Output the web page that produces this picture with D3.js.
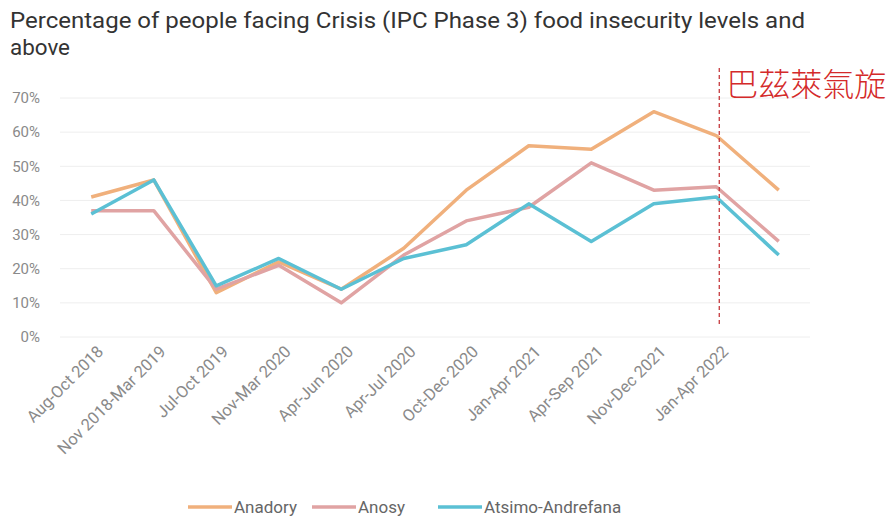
<!DOCTYPE html>
<html>
<head>
<meta charset="utf-8">
<script src="https://cdn.jsdelivr.net/npm/d3@7"></script>
<style>
  body { margin: 0; background: #fff; }
  svg { font-family: Roboto, "Noto Sans", sans-serif; }
</style>
</head>
<body>
<div id="chart"></div>
<script>
// chart data
const periods = ["Aug-Oct 2018", "Nov 2018-Mar 2019", "Jul-Oct 2019", "Nov-Mar 2020",
  "Apr-Jun 2020", "Apr-Jul 2020", "Oct-Dec 2020", "Jan-Apr 2021", "Apr-Sep 2021",
  "Nov-Dec 2021", "Jan-Apr 2022", ""];
const anadory = [41, 46, 13, 22, 14, 26, 43, 56, 55, 66, 59, 43];
const anosy = [37, 37, 14, 21, 10, 24, 34, 38, 51, 43, 44, 28];
const atsimo = [36, 46, 15, 23, 14, 23, 27, 39, 28, 39, 41, 24];
const yTicks = [0, 10, 20, 30, 40, 50, 60, 70];
const seriesNames = ["Anadory", "Anosy", "Atsimo-Andrefana"];
const seriesColors = ["#F0B07C", "#E0A3A3", "#5BC0D4"];

const width = 893;
const height = 520;
const margin = {left: 60, right: 83, top: 98, bottom: 183};

const svg = d3.select("#chart")
  .append("svg")
  .attr("width", width)
  .attr("height", height);

// title
svg.append("text")
  .attr("x", 10).attr("y", 28)
  .attr("font-size", 22).attr("fill", "#333")
  .attr("textLength", 795).attr("lengthAdjust", "spacingAndGlyphs")
  .text("Percentage of people facing Crisis (IPC Phase 3) food insecurity levels and");
svg.append("text")
  .attr("x", 10).attr("y", 55)
  .attr("font-size", 22).attr("fill", "#333")
  .attr("textLength", 60).attr("lengthAdjust", "spacingAndGlyphs")
  .text("above");

// scales
const x = d3.scalePoint()
  .domain(d3.range(periods.length))
  .range([margin.left, width - margin.right])
  .padding(0.5);

const y = d3.scaleLinear()
  .domain([0, 70])
  .range([height - margin.bottom, margin.top]);

// grid lines
svg.append("g")
  .selectAll("line")
  .data(yTicks)
  .join("line")
  .attr("x1", margin.left).attr("x2", width - margin.right)
  .attr("y1", d => y(d)).attr("y2", d => y(d))
  .attr("stroke", "#eeeeee").attr("stroke-width", 1);

// y axis
const yAxis = svg.append("g")
  .attr("transform", `translate(${margin.left - 17},0)`)
  .call(d3.axisLeft(y).tickValues(yTicks).tickFormat(d => d + "%").tickSize(0));
yAxis.select(".domain").remove();
yAxis.selectAll("text").attr("font-size", 15).attr("fill", "#8a8a8a")
  .attr("font-family", "Roboto, sans-serif");

// x axis
const xAxis = svg.append("g")
  .attr("transform", `translate(0,${height - margin.bottom + 10})`)
  .call(d3.axisBottom(x).tickFormat(i => periods[i]).tickSize(0));
xAxis.select(".domain").remove();
xAxis.selectAll("text")
  .attr("font-size", 16.5).attr("fill", "#8a8a8a")
  .attr("font-family", "Roboto, sans-serif")
  .attr("text-anchor", "end")
  .attr("dx", "0.3em")
  .attr("dy", "0.6em")
  .attr("transform", "rotate(-45)");

// lines
const line = d3.line()
  .x((d, i) => x(i))
  .y(d => y(d));

[anadory, anosy, atsimo].forEach((vals, k) => {
  svg.append("path")
    .datum(vals)
    .attr("fill", "none")
    .attr("stroke", seriesColors[k])
    .attr("stroke-width", 3.5)
    .attr("stroke-linejoin", "round")
    .attr("d", line);
});

// cyclone marker
const markX = x(10) + 3;
svg.append("line")
  .attr("x1", markX).attr("x2", markX)
  .attr("y1", 68).attr("y2", 326)
  .attr("stroke", "#c0282d").attr("stroke-width", 1.2)
  .attr("stroke-dasharray", "4,3");
svg.append("text")
  .attr("x", markX + 7).attr("y", 96)
  .attr("font-size", 32).attr("fill", "#d42a2a")
  .attr("font-family", "'Noto Sans CJK TC', sans-serif")
  .attr("font-weight", 300)
  .text("巴茲萊氣旋");

// legend
const legendX = [188, 312, 438];
const legend = svg.append("g");
seriesNames.forEach((name, k) => {
  legend.append("line")
    .attr("x1", legendX[k]).attr("x2", legendX[k] + 44)
    .attr("y1", 507).attr("y2", 507)
    .attr("stroke", seriesColors[k]).attr("stroke-width", 3.5);
  legend.append("text")
    .attr("x", legendX[k] + 46).attr("y", 513)
    .attr("font-size", 17).attr("fill", "#666")
    .text(name);
});
</script>
</body>
</html>
